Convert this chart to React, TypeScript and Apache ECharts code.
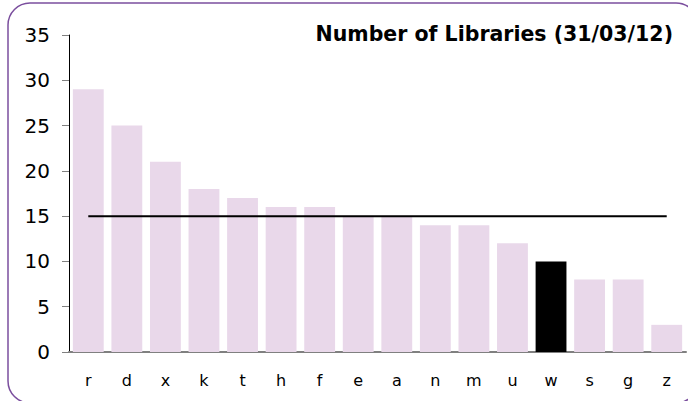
import React, { useEffect, useRef } from "react";
import * as echarts from "echarts";

const categories = ["r", "d", "x", "k", "t", "h", "f", "e", "a", "n", "m", "u", "w", "s", "g", "z"];
const libraries = [29, 25, 21, 18, 17, 16, 16, 15, 15, 14, 14, 12, 10, 8, 8, 3];
const highlighted = "w";
const averageValue = 15;
const titleText = "Number of Libraries (31/03/12)";

export default function App() {
  const ref = useRef<HTMLDivElement>(null);
  useEffect(() => {
    if (!ref.current) return;
    const chart = echarts.init(ref.current, null, { renderer: "svg" });
    const font = "'DejaVu Sans', Verdana, sans-serif";
    chart.setOption({
      animation: false,
      graphic: [
        {
          type: "rect",
          shape: { x: 8, y: 3, width: 690, height: 400, r: 22 },
          style: { fill: "none", stroke: "#7b4f9e", lineWidth: 1.5 },
          silent: true,
        },
        {
          type: "text",
          right: 15,
          top: 23,
          style: { text: titleText, font: `bold 20.5px ${font}`, fill: "#000" },
        },
      ],
      grid: { left: 69, right: 2, top: 35, bottom: 49 },
      xAxis: {
        type: "category",
        data: categories,
        axisLine: { lineStyle: { color: "#808080", width: 2 } },
        axisTick: { show: false },
        axisLabel: { color: "#000", fontSize: 16, fontFamily: font, margin: 20 },
      },
      yAxis: {
        type: "value",
        min: 0,
        max: 35,
        interval: 5,
        splitLine: { show: false },
        axisLine: { show: true, lineStyle: { color: "#000", width: 1 } },
        axisTick: { show: true, length: 7, lineStyle: { color: "#808080" } },
        axisLabel: { color: "#000", fontSize: 20, fontFamily: font, margin: 19 },
      },
      series: [
        {
          type: "bar",
          data: libraries.map((v, i) => ({
            value: v,
            itemStyle: { color: categories[i] === highlighted ? "#000" : "#e9d8ea" },
          })),
          barCategoryGap: "20%",
        },
        {
          type: "line",
          data: categories.map(() => averageValue),
          symbol: "none",
          lineStyle: { color: "#000", width: 2 },
          z: 5,
        },
      ],
    });
    return () => chart.dispose();
  }, []);
  return (
    <div
      ref={ref}
      style={{ position: "absolute", left: 0, top: 0, width: 688, height: 401, background: "#fff" }}
    />
  );
}
